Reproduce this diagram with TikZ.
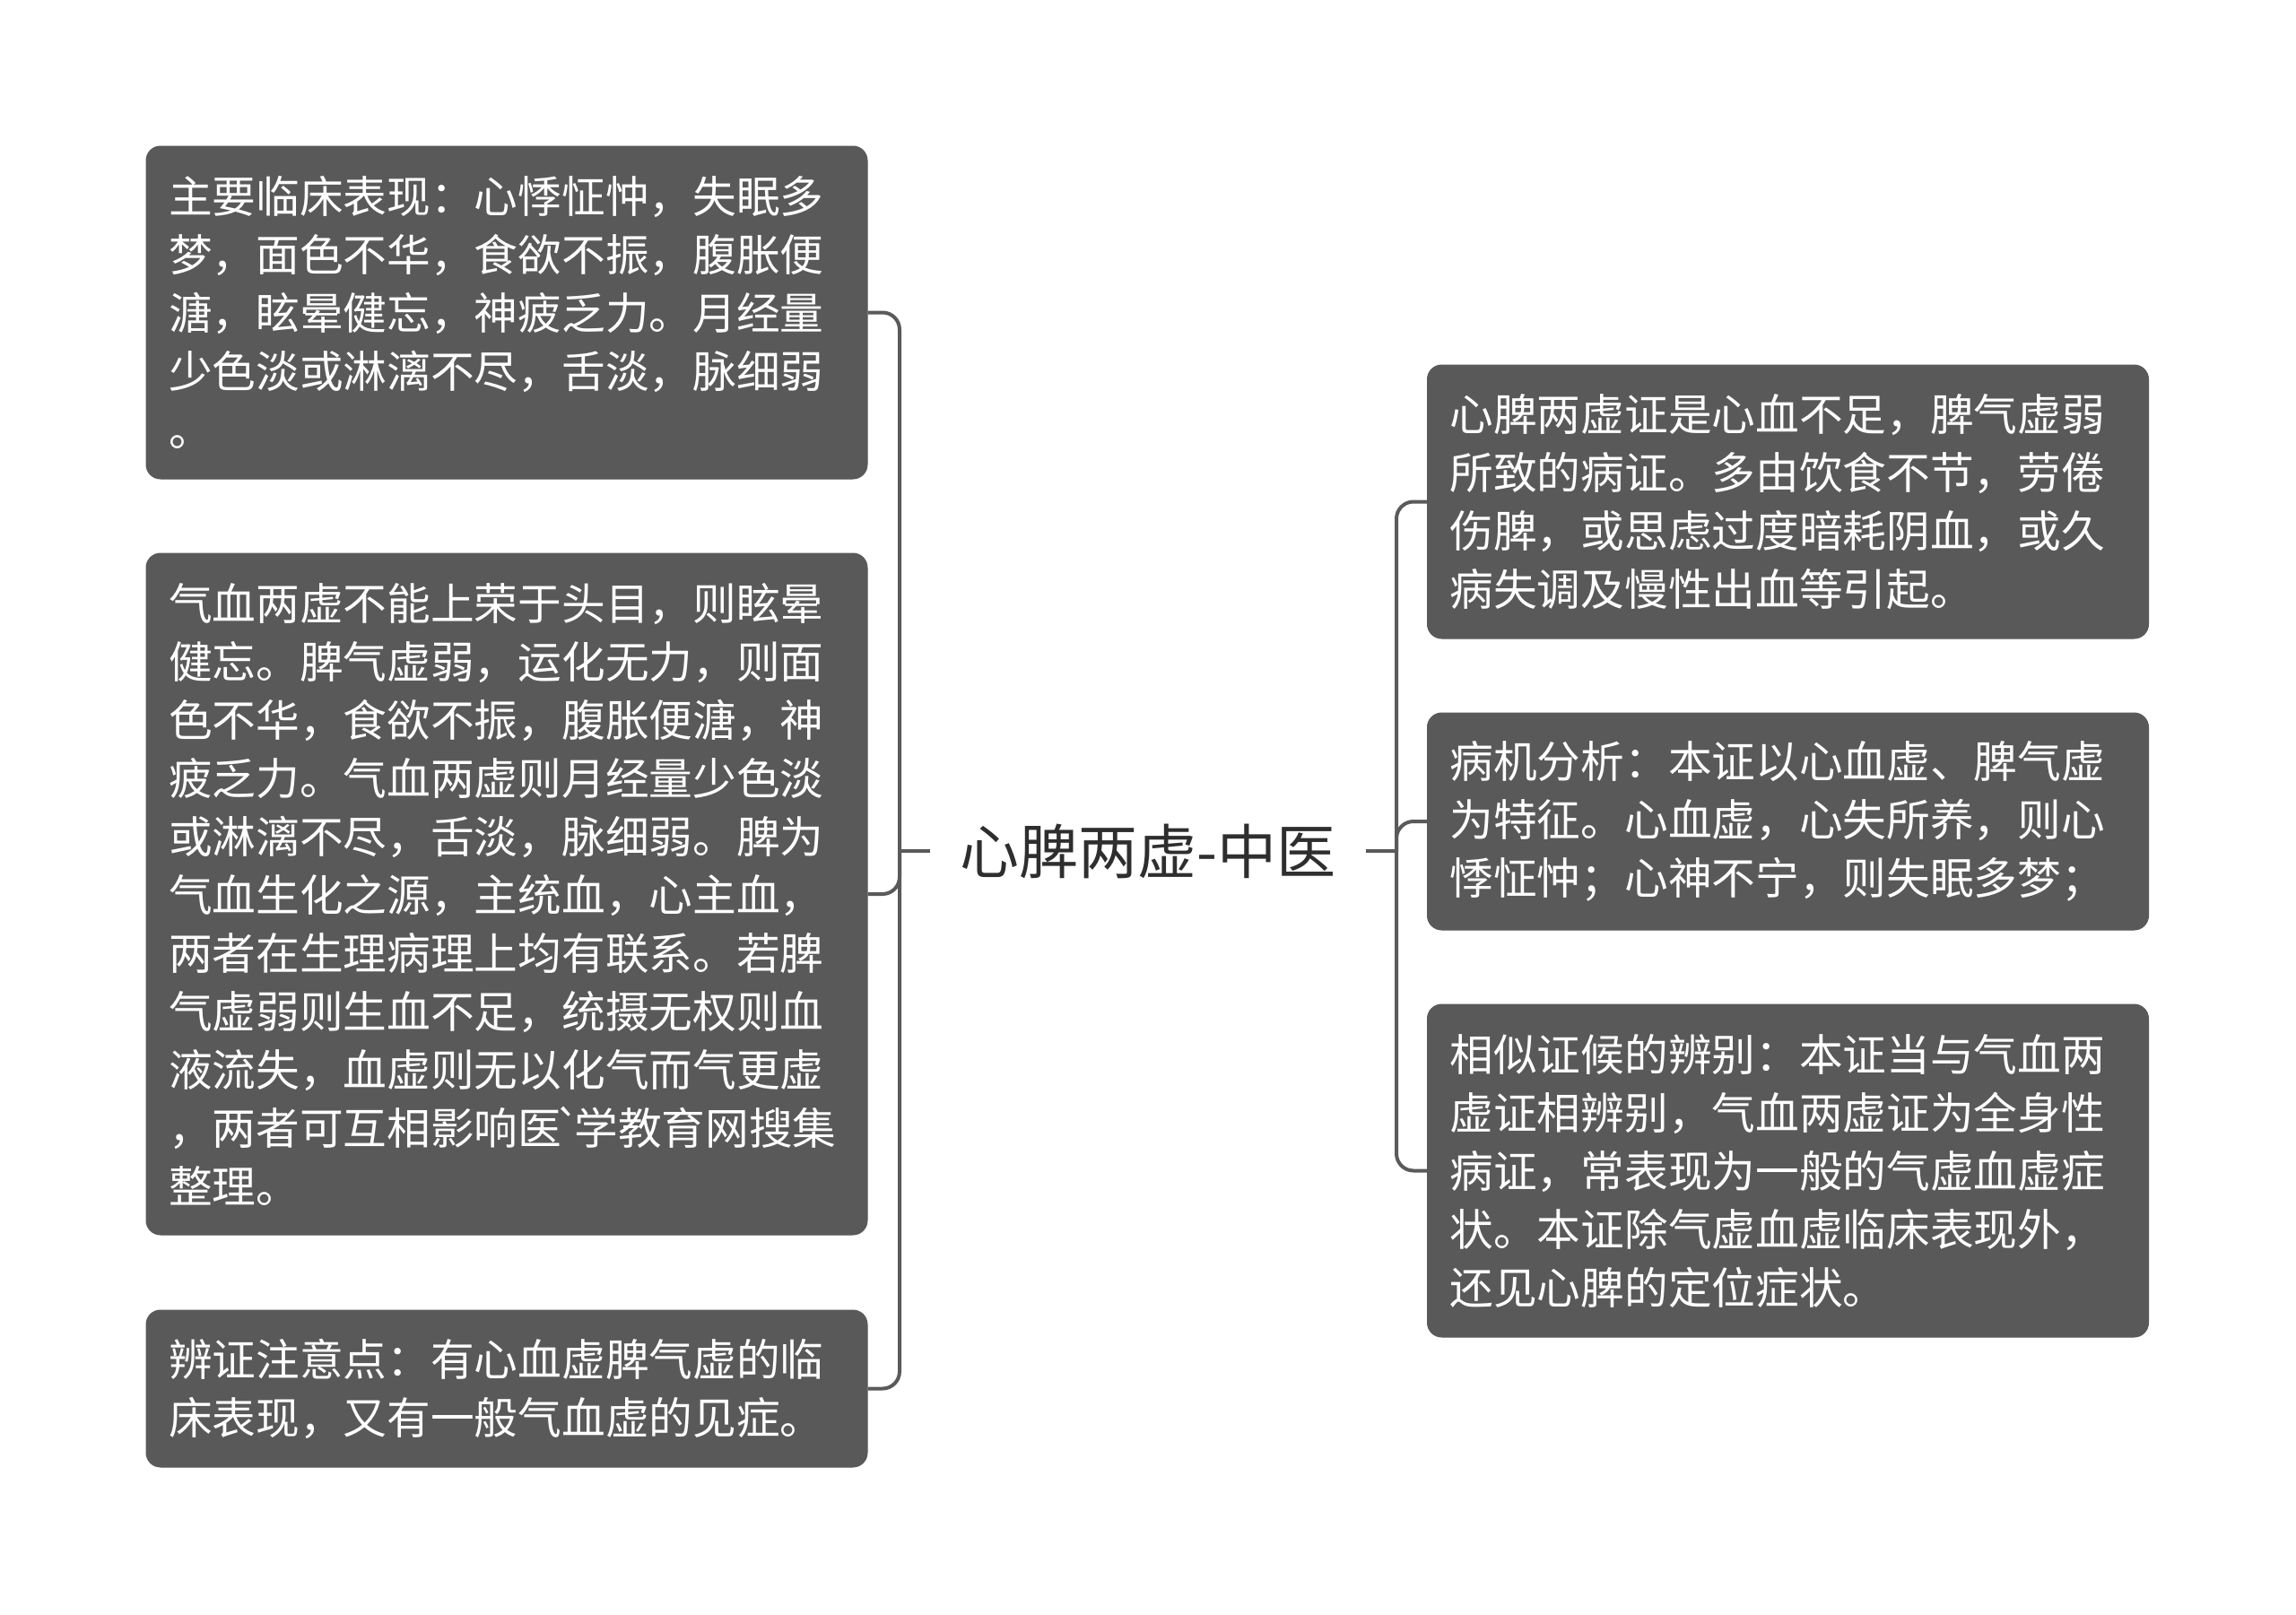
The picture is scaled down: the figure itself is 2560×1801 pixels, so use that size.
\documentclass[tikz,border=0pt]{standalone}
\usepackage{fontspec}
\newfontfamily\cjk[Ligatures=TeXOff]{Noto Sans CJK SC}
\definecolor{boxfill}{HTML}{595959}
\definecolor{linecol}{HTML}{5A5A5A}
\definecolor{titlecol}{HTML}{2E2E2E}
\newcommand{\narrowgrave}{\hbox to 14pt{\hss`\hss}}
\tikzset{
  leaf/.style={draw=boxfill, line width=1pt, fill=boxfill, rounded corners=16pt, text=white,
    minimum width=804pt, text width=754pt, inner xsep=25pt, inner ysep=0pt, align=left,
    font=\cjk\fontsize{48.7}{65}\selectfont},
  link/.style={draw=linecol, line width=4pt, rounded corners=19pt},
  title/.style={text=titlecol, inner xsep=33pt, inner ysep=10pt, font=\cjk\fontsize{66}{72}\selectfont}
}
\begin{document}
\begin{tikzpicture}[x=1pt,y=-1pt]
\useasboundingbox[fill=white] (0,0) rectangle (2560,1801);

\node[title] (root) at (1280,949) {心脾两虚-中医};

\node[leaf, minimum height=371pt] (l1) at (565,348.5) {主要临床表现：心悸怔忡，失眠多\\梦，面色不华，食欲不振，腹胀便\\溏，眩晕健忘，神疲乏力。月经量\\少色淡或淋漓不尽，舌淡，脉细弱\\。};
\node[leaf, minimum height=760pt] (l2) at (565,997) {气血两虚不能上荣于头目，则眩晕\\健忘。脾气虚弱，运化无力，则面\\色不华，食欲不振，腹胀便溏，神\\疲乏力。气血两虚则月经量少色淡\\或淋漓不尽，舌淡，脉细弱。脾为\\气血生化之源，主统血，心主血，\\两者在生理病理上均有联系。若脾\\气虚弱则生血不足，统摄无权则血\\液流失，血虚则无以化气而气更虚\\，两者可互相影响医\narrowgrave 学教育网搜集\\整理。};
\node[leaf, minimum height=175pt] (l3) at (565,1548.5) {辨证注意点：有心血虚脾气虚的临\\床表现，又有一般气血虚的见症。};

\node[leaf, minimum height=305pt] (r1) at (1993.5,559.5) {心脾两虚证是心血不足，脾气虚弱\\所致的病证。多由饮食不节，劳倦\\伤脾，或思虑过度暗耗阴血，或久\\病失调及慢性出血等引起。};
\node[leaf, minimum height=242pt] (r2) at (1993.5,916) {病机分析：本证以心血虚、脾气虚\\为特征。心血虚，心失所养，则心\\悸怔忡；心神不宁，则失眠多梦；};
\node[leaf, minimum height=371pt] (r3) at (1993.5,1305.5) {相似证候的辨别：本证当与气血两\\虚证相辨别，气血两虚证为全身性\\病证，常表现为一般的气虚血虚症\\状。本证除气虚血虚临床表现外，\\还见心脾的定位症状。};

\coordinate (jl) at (1003,949);
\coordinate (jr) at (1557,949);

\draw[link] (root.west) -- (jl);
\draw[link] (jl) |- (l1.east);
\draw[link] (jl) |- (l2.east);
\draw[link] (jl) |- (l3.east);

\draw[link] (root.east) -- (jr);
\draw[link] (jr) |- (r1.west);
\draw[link] (jr) |- (r2.west);
\draw[link] (jr) |- (r3.west);
\end{tikzpicture}
\end{document}
